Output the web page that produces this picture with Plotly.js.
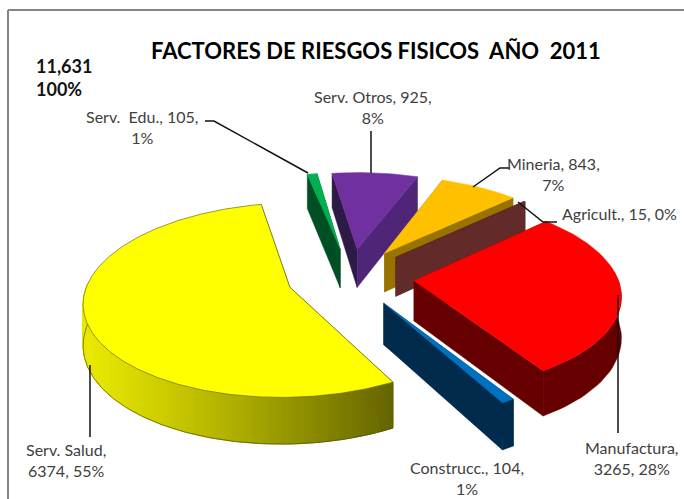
<!DOCTYPE html>
<html><head><meta charset="utf-8">
<script src="https://cdn.plot.ly/plotly-3.0.1.min.js"></script>
<style>html,body{margin:0;padding:0;background:#fff}#c{width:684px;height:499px}</style>
</head><body><div id="c"></div>
<script>
// Data, clockwise from the 22 degree start
const categories = ['Mineria','Agricult.','Manufactura','Construcc.','Serv. Salud','Serv. Edu.','Serv. Otros'];
const values = [843,15,3265,104,6374,105,925];
const pointLabels = ['Mineria, 843,<br>7%','Agricult., 15, 0%','Manufactura,<br>3265, 28%','Construcc., 104,<br>1%','Serv. Salud,<br>6374, 55%','Serv.  Edu., 105,<br>1%','Serv. Otros, 925,<br>8%'];
const topColors = ['#FFC000','#632A2A','#FF0000','#0070C0','#FFFF00','#00B050','#7030A0'];
const sideColors = ['#997300','#632A2A','#660000','#002B4D','#666600','#004F24','#4F2578'];
const cutColors = ['#997300','#632A2A','#660000','#002B4D','#666600','#004F24','#2E1A47'];
const totalLabel = '11,631<br>100%';
const chartTitle = 'FACTORES DE RIESGOS FISICOS  AÑO  2011';

// 3-D pie projection
const cx=350.5, cy=277, R=202, Ry=93, k=0.13, D=40, ex=0.315, firstAngle=22.1, shearX=5.5, shearY=3;
const rad=a=>a*Math.PI/180;
function proj(X,Y,z){const w=1-k*Y;return [cx+(R*X+shearX*Y)/w, cy+(Ry*Y-shearY*X+z*D)/w];}
const total=values.reduce((a,b)=>a+b,0);
const traces=[];
function poly(pts,fill,line,lw){
  traces.push({type:'scatter',mode:'lines',x:pts.map(p=>p[0]),y:pts.map(p=>p[1]),fill:'toself',fillcolor:fill,
    line:{color:line||fill,width:lw===undefined?0.5:lw},hoverinfo:'skip',showlegend:false});
}
function mix(c1,c2,t){const h=s=>[1,3,5].map(i=>parseInt(s.substr(i,2),16));const a=h(c1),b=h(c2);
  return 'rgb('+a.map((v,i)=>Math.round(v+(b[i]-v)*t)).join(',')+')';}

let start=firstAngle;
const slices=values.map((v,i)=>{const sweep=v/total*360;const s={i,a0:start,a1:start+sweep};start+=sweep;return s;});
// paint back to front
const order=[5,6,0,1,2,4,3];
order.forEach(i=>{
  const s=slices[i], mid=rad((s.a0+s.a1)/2);
  const ax=ex*Math.sin(mid), ay=-ex*Math.cos(mid);
  const isYellow=i===4;
  const pt=(a)=>[ax+Math.sin(rad(a)), ay-Math.cos(rad(a))];
  const step=isYellow?0.75:2;
  const n=Math.max(2,Math.ceil((s.a1-s.a0)/step));
  const ang=[];for(let j=0;j<=n;j++)ang.push(s.a0+(s.a1-s.a0)*j/n);
  const arc=ang.map(pt);
  const P=(q,z)=>proj(q[0],q[1],z);
  const apex=[ax,ay];
  // cut faces
  poly([P(apex,0),P(arc[0],0),P(arc[0],1),P(apex,1),P(apex,0)],cutColors[i]);
  poly([P(apex,0),P(arc[n],0),P(arc[n],1),P(apex,1),P(apex,0)],sideColors[i]);
  // outer wall, front-facing part only
  const facing=ang.map((a,j)=>-Math.cos(rad(a))>=-0.08?j:-1).filter(j=>j>=0);
  if(facing.length>1){
    const vis=facing.map(j=>arc[j]);
    if(isYellow){
      for(let j=0;j<vis.length-1;j++){
        const q0=vis[j],q1=vis[j+1];
        const t=Math.min(1,Math.max(0,(P(q0,0)[0]-90)/(391-90)));
        poly([P(q0,0),P(q1,0),P(q1,1),P(q0,1),P(q0,0)],mix('#E8E800',sideColors[i],Math.pow(t,1.1)),null,1);
      }
      const lower=vis.map(q=>P(q,1));
      traces.push({type:'scatter',mode:'lines',x:lower.map(p=>p[0]),y:lower.map(p=>p[1]),line:{color:'#55550a',width:0.7},hoverinfo:'skip',showlegend:false});
    } else {
      const wall=vis.map(q=>P(q,0)).concat(vis.slice().reverse().map(q=>P(q,1)));
      wall.push(wall[0]);
      poly(wall,sideColors[i]);
    }
  }
  // top
  const top=[P(apex,0)].concat(arc.map(q=>P(q,0)));top.push(top[0]);
  poly(top,topColors[i],isYellow?'#6b6b20':topColors[i],isYellow?0.7:0.5);
});

// leader lines
const leaders=[
 [[205,121],[214,121],[308,173]],
 [[371,131],[371,173]],
 [[510,168],[500,168],[473,187]],
 [[518,202],[543,222],[557,222]],
 [[618,295],[618,433]],
 [[90,365],[90,437]]
];
leaders.forEach(l=>traces.push({type:'scatter',mode:'lines',x:l.map(p=>p[0]),y:l.map(p=>p[1]),line:{color:'#111',width:1.5},hoverinfo:'skip',showlegend:false}));

// label anchors [x centre, y centre]
const anchors=[[553,174],[619,213],[632,458],[467,478],[66,460],[142,127],[373,107]];
const fontLabel={family:'Lato, Carlito, sans-serif',size:16,color:'#404040'};
const annotations=pointLabels.map((t,i)=>({xref:'x',yref:'y',x:anchors[i][0],y:anchors[i][1],text:t,showarrow:false,font:fontLabel,align:'center',xanchor:'center',yanchor:'middle'}));
annotations.push({xref:'x',yref:'y',x:34,y:77,text:'<b>'+totalLabel.replace('<br>','</b><br><b>')+'</b>',showarrow:false,align:'left',xanchor:'left',yanchor:'middle',font:{family:'Lato, Carlito, sans-serif',size:18,color:'#111'}});

const frame=[
 {type:'line',xref:'x',yref:'y',x0:8,y0:10,x1:684,y1:10,line:{color:'#868686',width:2}},
 {type:'line',xref:'x',yref:'y',x0:8,y0:10,x1:8,y1:499,line:{color:'#868686',width:2}}
];

Plotly.newPlot('c',traces,{
  width:684,height:499,margin:{l:0,r:0,t:0,b:0},paper_bgcolor:'#fff',plot_bgcolor:'#fff',showlegend:false,
  title:{text:'<b>'+chartTitle+'</b>',x:0.5497,xanchor:'center',xref:'paper',y:0.897,yanchor:'middle',font:{family:'Lato, Carlito, sans-serif',size:22,color:'#000'}},
  xaxis:{range:[0,684],visible:false,fixedrange:true},
  yaxis:{range:[499,0],visible:false,fixedrange:true},
  annotations,shapes:frame
},{displayModeBar:false,staticPlot:true});
</script></body></html>
